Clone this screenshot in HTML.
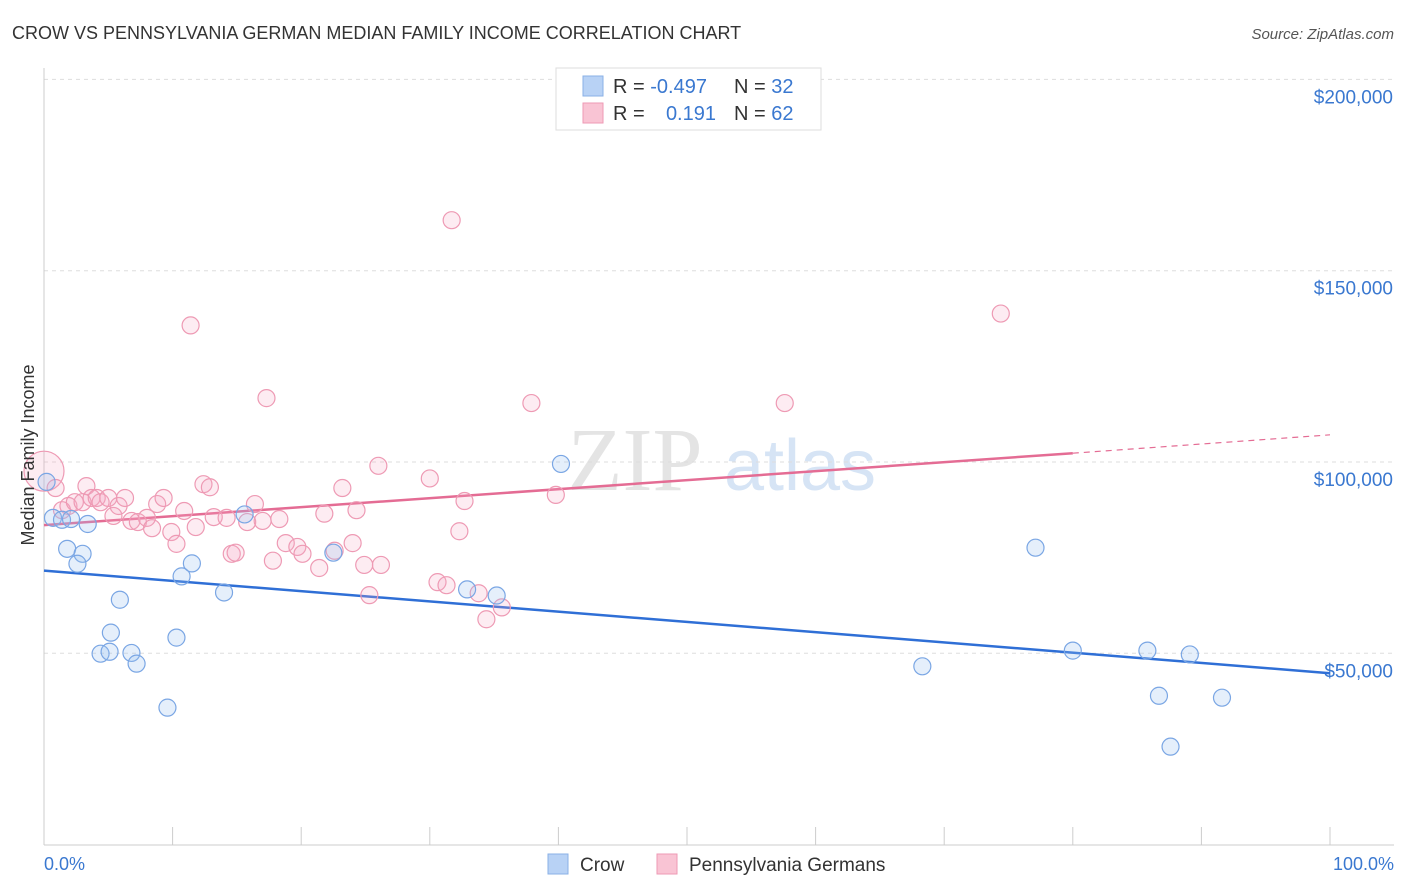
<!DOCTYPE html>
<html><head><meta charset="utf-8"><style>
body{margin:0;background:#fff;font-family:"Liberation Sans",sans-serif;}
svg{display:block}
</style></head><body>
<svg id="chart" width="1406" height="892" xmlns="http://www.w3.org/2000/svg">
<text x="12" y="39" font-size="18" fill="#333">CROW VS PENNSYLVANIA GERMAN MEDIAN FAMILY INCOME CORRELATION CHART</text>
<text x="1394" y="39" font-size="15" fill="#555" font-style="italic" text-anchor="end">Source: ZipAtlas.com</text>
<text x="635" y="490" font-size="90" fill="#e4e4e4" font-family="Liberation Serif" text-anchor="middle">ZIP</text>
<text x="800" y="490" font-size="72" fill="#d6e4f5" text-anchor="middle">atlas</text>
<g id="grid"></g><g id="axes"></g><g id="trends"></g><g id="pts"></g>
<text transform="translate(34,455) rotate(-90)" font-size="18" fill="#333" text-anchor="middle">Median Family Income</text>
<text x="44" y="870" font-size="18" fill="#3a78d0">0.0%</text>
<text x="1394" y="870" font-size="18" fill="#3a78d0" text-anchor="end">100.0%</text>
<g>
<rect x="556" y="68" width="265" height="62" fill="#fff" stroke="#ddd"/>
<rect x="583" y="76" width="20" height="20" fill="#b8d2f5" stroke="#8ab0e6"/>
<rect x="583" y="103" width="20" height="20" fill="#f9c4d4" stroke="#ee9ab4"/>
<text x="613" y="93" font-size="20" fill="#333">R = <tspan fill="#3a78d0">-0.497</tspan></text>
<text x="734" y="93" font-size="20" fill="#333">N = <tspan fill="#3a78d0">32</tspan></text>
<text x="613" y="120" font-size="20" fill="#333">R = </text>
<text x="716" y="120" font-size="20" fill="#3a78d0" text-anchor="end">0.191</text>
<text x="734" y="120" font-size="20" fill="#333">N = <tspan fill="#3a78d0">62</tspan></text>
</g>
<g>
<rect x="548" y="854" width="20" height="20" fill="#b8d2f5" stroke="#8ab0e6"/>
<text x="580" y="871" font-size="19" fill="#333">Crow</text>
<rect x="657" y="854" width="20" height="20" fill="#f9c4d4" stroke="#ee9ab4"/>
<text x="689" y="871" font-size="19" fill="#333">Pennsylvania Germans</text>
</g>
</svg>
<script>
const yTicks=[50000,100000,150000,200000];
const yTickLabels=["$50,000","$100,000","$150,000","$200,000"];
const crowX=[0.2,0.7,1.4,2.1,3.4,1.8,3.0,2.6,5.9,5.2,4.4,5.1,6.8,7.2,10.3,9.6,10.7,11.5,14.0,15.6,22.5,32.9,35.2,40.2,68.3,77.1,80.0,85.8,89.1,86.7,91.6,87.6];
const crowY=[94800,85400,84900,85100,83800,77300,76000,73400,64000,55400,49900,50400,50100,47300,54100,35800,70100,73500,65900,86300,76300,66700,65100,99500,46600,77600,50700,50700,49700,38900,38400,25600];
const paX=[0,0.9,1.4,1.9,2.4,3.0,3.3,3.7,4.1,4.4,5.0,5.4,5.8,6.3,6.8,7.3,8.0,8.4,8.8,9.3,9.9,10.3,10.9,11.4,11.8,12.4,12.9,13.2,14.2,14.6,14.9,15.8,16.4,17.0,17.3,17.8,18.3,18.8,19.7,20.1,21.4,21.8,22.6,23.2,24.0,24.3,24.9,25.3,26.0,26.2,30.0,30.6,31.3,31.7,32.3,32.7,33.8,34.4,35.6,37.9,39.8,57.6,74.4];
const paY=[97600,93200,87400,88500,89500,89500,93700,90600,90600,89500,90600,85900,88500,90600,84600,84300,85400,82700,89000,90600,81700,78600,87200,135700,83000,94200,93400,85600,85400,76000,76300,84300,89000,84600,116700,74200,85100,78800,77800,76000,72300,86500,76800,93200,78800,87400,73100,65200,99000,73100,95700,68600,67800,163200,81900,89800,65700,58900,62000,115400,91400,115400,138800];
const trendCrow=[71600,44800];
const trendPa=[83500,102300,107100];
const X=p=>44+p*12.86, Y=v=>462-(v-100000)*191.3/50000;
const ns="http://www.w3.org/2000/svg";
function mk(t,a,p){const e=document.createElementNS(ns,t);for(const k in a)e.setAttribute(k,a[k]);document.getElementById(p).appendChild(e);return e;}
yTicks.forEach((v,i)=>{
 const l=mk('line',{x1:44,x2:1394,y1:Y(v),y2:Y(v),stroke:'#ddd','stroke-dasharray':'4,4'},'grid');
 
 
 const t=mk('text',{x:1393,y:Y(v)+24,'font-size':19,fill:'#3a78d0','text-anchor':'end'},'grid');t.textContent=yTickLabels[i];
 
 
});
const a1=mk('line',{x1:44,x2:44,y1:68,y2:845,stroke:'#ccc'},'axes');


const a2=mk('line',{x1:44,x2:1394,y1:845,y2:845,stroke:'#ccc'},'axes');


for(let i=0;i<=10;i++){const t=mk('line',{x1:X(i*10),x2:X(i*10),y1:827,y2:845,stroke:'#ccc'},'axes');
 
 }
const tb=mk('line',{x1:X(0),y1:Y(trendCrow[0]),x2:X(100),y2:Y(trendCrow[1]),stroke:'#2f6fd6','stroke-width':2.5},'trends');


const tp=mk('line',{x1:X(0),y1:Y(trendPa[0]),x2:X(80),y2:Y(trendPa[1]),stroke:'#e46c94','stroke-width':2.5},'trends');


const td=mk('line',{x1:X(80),y1:Y(trendPa[1]),x2:X(100),y2:Y(trendPa[2]),stroke:'#e46c94','stroke-width':1.2,'stroke-dasharray':'6,5'},'trends');


paX.forEach((x,i)=>{const c=mk('circle',{cx:X(x),cy:Y(paY[i]),r:i==0?20:8.5,fill:'rgba(246,170,195,0.22)',stroke:'#ee9ab4','stroke-width':1.2},'pts');
 
 });
crowX.forEach((x,i)=>{const c=mk('circle',{cx:X(x),cy:Y(crowY[i]),r:8.5,fill:'rgba(150,190,240,0.25)',stroke:'#7aa6e4','stroke-width':1.2},'pts');
 
 });
</script>
</body></html>
